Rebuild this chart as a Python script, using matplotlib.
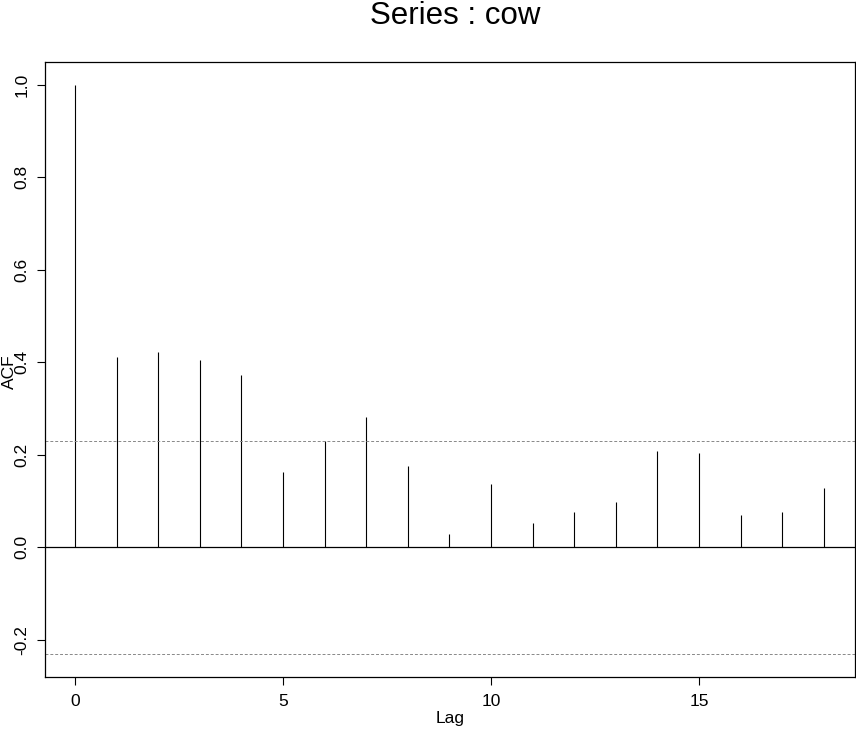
import matplotlib
matplotlib.use('Agg')
import matplotlib.pyplot as plt
import numpy as np

plt.rcParams['font.family'] = ['Liberation Sans', 'DejaVu Sans']

lags = np.arange(0, 19)
acf = [1.0, 0.411, 0.422, 0.404, 0.372, 0.163, 0.231, 0.281, 0.175, 0.030,
       0.136, 0.052, 0.076, 0.099, 0.208, 0.205, 0.071, 0.076, 0.128]
conf = 0.231
xticks = [0, 5, 10, 15]
yticks = [-0.2, 0.0, 0.2, 0.4, 0.6, 0.8, 1.0]

fig = plt.figure(figsize=(8.56, 7.30), dpi=100)
ax = fig.add_axes([45 / 856, 1 - 677 / 730, 810 / 856, 615 / 730])

ax.vlines(lags, 0, acf, color='black', linewidth=0.8)
ax.axhline(0, color='black', linewidth=0.9)
ax.axhline(conf, color='#888888', linewidth=0.7, linestyle=(0, (3, 2)))
ax.axhline(-conf, color='#888888', linewidth=0.7, linestyle=(0, (3, 2)))

ax.set_xlim(-0.72, 18.75)
ax.set_ylim(-0.28, 1.049)
ax.set_xticks(xticks)
ax.set_xticklabels([str(t) for t in xticks])
ax.set_yticks(yticks)
ax.set_yticklabels(['%.1f' % t for t in yticks], rotation=90, va='center')

ax.tick_params(direction='out', length=6, width=0.8, labelsize=12.5)
ax.tick_params(axis='x', pad=6)
ax.tick_params(axis='y', pad=5)
for s in ax.spines.values():
    s.set_linewidth(0.9)

fig.text(455 / 856, 1 - 16 / 730, 'Series : cow', ha='center', va='center',
         fontsize=22.5)
fig.text(450 / 856, 1 - 719 / 730, 'Lag', ha='center', va='center', fontsize=12.5)
fig.text(9 / 856, 1 - 372 / 730, 'ACF', ha='center', va='center', fontsize=12.5,
         rotation=90)

fig.savefig('out.png', dpi=100)
